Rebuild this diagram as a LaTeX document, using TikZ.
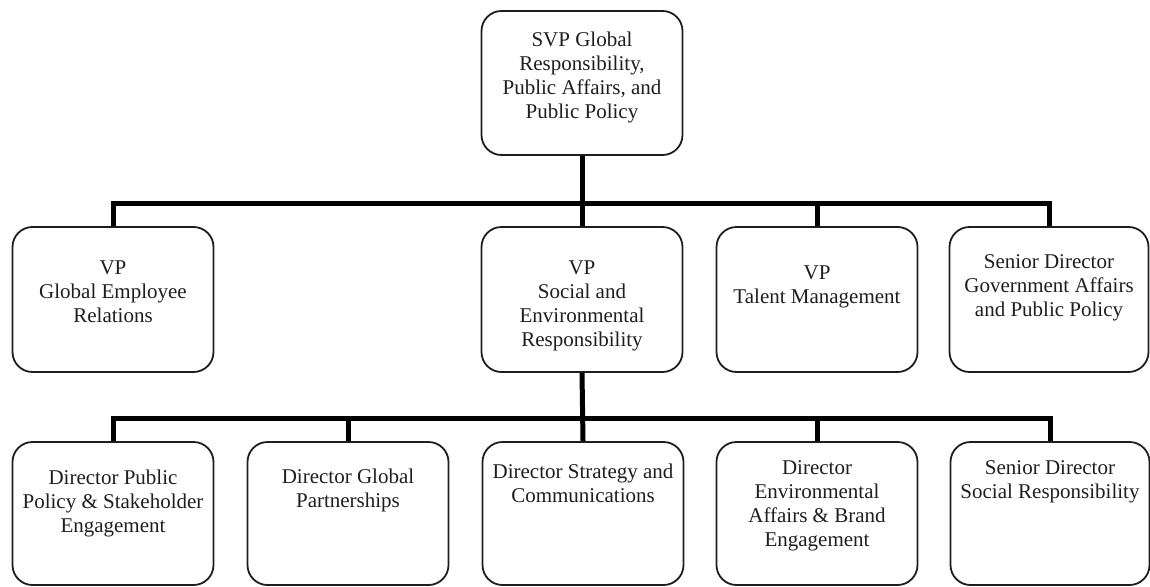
\documentclass[tikz,border=0pt]{standalone}
\usepackage{fontspec}
\setmainfont{Liberation Serif}
\usetikzlibrary{positioning}
\definecolor{ink}{HTML}{1E1E1E}
\tikzset{
  orgbox/.style={draw=ink, line width=1.8pt, rounded corners=20pt,
    minimum width=201pt, minimum height=145pt, inner sep=0pt},
  lbl/.style={font=\fontsize{21}{24}\selectfont, align=center,
    text=ink, inner sep=0pt},
  link/.style={line width=5pt, black}
}
\begin{document}
\begin{tikzpicture}[x=1pt,y=-1pt]
\useasboundingbox (0,0) rectangle (1150,586);

% top level
\node[orgbox, minimum height=144pt] (svp) at (582,83) {};
\node[lbl, below=22pt of svp.north] {SVP Global\\Responsibility,\\Public Affairs, and\\Public Policy};

% second level
\node[orgbox] (ger) at (113,299.5) {};
\node[orgbox] (ser) at (582,299.5) {};
\node[orgbox] (tal) at (817,299.5) {};
\node[orgbox, minimum width=199pt] (gov) at (1049,299.5) {};
\node[lbl, below=34pt of ger.north] {VP\\Global Employee\\Relations};
\node[lbl, below=34pt of ser.north] {VP\\Social and\\Environmental\\Responsibility};
\node[lbl, below=39pt of tal.north] {VP\\Talent Management};
\node[lbl, below=28pt of gov.north] {Senior Director\\Government Affairs\\and Public Policy};

% third level
\node[orgbox, minimum height=143pt] (pol) at (113,513.5) {};
\node[orgbox, minimum height=143pt] (par) at (348,513.5) {};
\node[orgbox, minimum height=143pt] (str) at (583,513.5) {};
\node[orgbox, minimum height=143pt] (env) at (817,513.5) {};
\node[orgbox, minimum height=143pt, minimum width=199pt] (soc) at (1050,513.5) {};
\node[lbl, below=29pt of pol.north] {Director Public\\Policy \& Stakeholder\\Engagement};
\node[lbl, below=28pt of par.north] {Director Global\\Partnerships};
\node[lbl, below=23pt of str.north] {Director Strategy and\\Communications};
\node[lbl, below=19pt of env.north] {Director\\Environmental\\Affairs \& Brand\\Engagement};
\node[lbl, below=19pt of soc.north] {Senior Director\\Social Responsibility};

% reporting lines
\coordinate (barA) at (582,203);
\coordinate (barB) at (582,418);
\draw[link] (svp.south) -- (ser.north);
\draw[link] (ger.north) -- (ger.north |- barA) -| (gov.north);
\draw[link] (tal.north) -- (tal.north |- barA);

\draw[link] (ser.south) -- (str.north);
\draw[link] (pol.north) -- (pol.north |- barB) -| (soc.north);
\draw[link] (par.north) -- (par.north |- barB);
\draw[link] (env.north) -- (env.north |- barB);
\end{tikzpicture}
\end{document}
